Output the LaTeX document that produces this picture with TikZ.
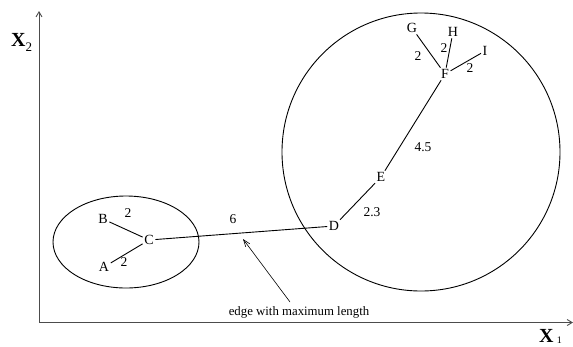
\documentclass[tikz,border=0pt]{standalone}
\usepackage{fontspec}
\setmainfont{Liberation Serif}
\usetikzlibrary{arrows.meta,shapes.geometric}
\begin{document}
\begin{tikzpicture}[x=1pt,y=-1pt,
  lbl/.style={inner sep=1.5pt,font=\fontsize{14}{15}\selectfont},
  wt/.style={inner sep=0pt,font=\fontsize{13.5}{14}\selectfont},
  edge/.style={line width=0.9pt},
  axis/.style={line width=0.9pt,black!70,-{Straight Barb[length=5pt,width=6pt]}}]
\useasboundingbox (0,0) rectangle (573,346);
% axes
\coordinate (O) at (39,322.5);
\coordinate (Ytop) at (39,11);
\coordinate (Xend) at (573,322.5);
\draw[axis] (O) -- (Ytop);
\draw[axis] (O) -- (Xend);
\node[inner sep=0pt,anchor=base west] (x2) at (11,46) {\fontsize{20}{20}\selectfont\bfseries X\raisebox{-5pt}{\fontsize{13}{13}\mdseries\selectfont 2}};
\node[inner sep=0pt,anchor=base west] (x1) at (539,342) {\fontsize{20}{20}\selectfont\bfseries X\,\raisebox{-1pt}{\fontsize{10}{10}\mdseries\selectfont 1}};
% clusters
\node[draw,ellipse,line width=0.9pt,minimum width=146pt,minimum height=92pt,inner sep=0pt] (ell) at (126,242) {};
\node[draw,circle,line width=0.9pt,minimum size=278pt,inner sep=0pt] (circ) at (421,152) {};
% nodes
\node[lbl] (A) at (104,267) {A};
\node[lbl] (B) at (103,219) {B};
\node[lbl] (C) at (149,240) {C};
\node[lbl] (D) at (334,226) {D};
\node[lbl] (E) at (381,177) {E};
\node[lbl] (F) at (445,74) {F};
\node[lbl] (G) at (412,28) {G};
\node[lbl] (H) at (453,32) {H};
\node[lbl] (I) at (485,51) {I};
% edges
\draw[edge] (B) -- (C);
\draw[edge] (A) -- (C);
\draw[edge] (C) -- (D);
\draw[edge] (D) -- (E);
\draw[edge] (E) -- (F);
\draw[edge] (G) -- (F);
\draw[edge] (H) -- (F);
\draw[edge] (I) -- (F);
% weights
\node[wt] (wBC) at (128,213) {2};
\node[wt] (wAC) at (124,262) {2};
\node[wt] (wCD) at (233,219) {6};
\node[wt] (wDE) at (372,212) {2.3};
\node[wt] (wEF) at (423,147) {4.5};
\node[wt] (wGF) at (418,56) {2};
\node[wt] (wHF) at (444,48) {2};
\node[wt] (wIF) at (470,68) {2};
% annotation
\node[inner sep=0pt,anchor=base,font=\fontsize{12.8}{14}\selectfont] (txt) at (299,315) {edge with maximum length};
\coordinate (ast) at (290,302);
\coordinate (aend) at (243,239);
\draw[line width=0.6pt,-{Straight Barb[length=7pt,width=5pt]}] (ast) -- (aend);
\end{tikzpicture}
\end{document}
